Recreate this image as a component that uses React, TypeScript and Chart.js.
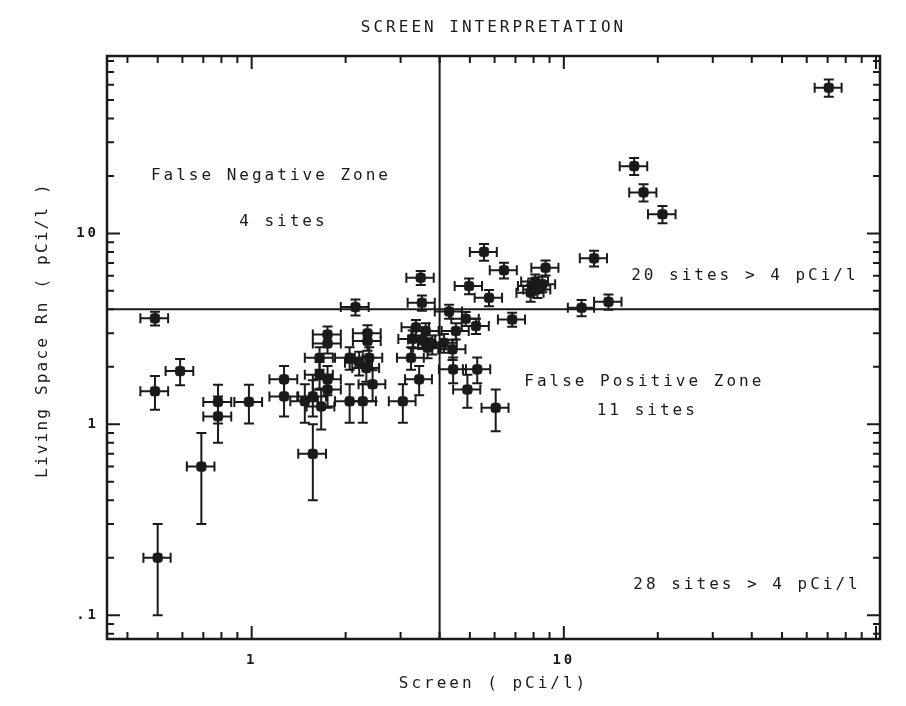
import { useEffect, useRef } from 'react';
import { Chart, registerables } from 'chart.js';

Chart.register(...registerables);

// ---- data ----
const screen = [
  0.49, 0.49, 0.59, 0.5, 0.69, 0.78, 0.78, 0.98, 1.27, 1.27,
  1.48, 1.57, 1.67, 1.57, 1.65, 1.75, 1.75, 1.65, 1.75, 1.75,
  2.06, 2.21, 2.33, 2.38, 2.35, 2.35, 2.44, 2.06, 2.27, 3.05,
  2.15, 3.51, 3.48, 3.24, 3.44, 3.36, 3.61, 3.52, 3.66, 3.79,
  3.28, 4.29, 4.85, 5.23, 6.83, 4.51, 4.4, 4.13, 4.42, 5.28,
  4.91, 6.05, 70.6, 16.8, 18.0, 20.7, 5.55, 12.5, 6.43, 8.74,
  4.97, 5.76, 7.93, 8.23, 7.83, 8.53, 8.1, 11.4, 13.9,
];
const living = [
  3.59, 1.49, 1.9, 0.2, 0.6, 1.31, 1.1, 1.31, 1.72, 1.4,
  1.32, 1.4, 1.24, 0.7, 1.82, 1.72, 1.52, 2.23, 2.95, 2.65,
  2.23, 2.1, 1.97, 2.23, 3.0, 2.73, 1.62, 1.32, 1.32, 1.32,
  4.11, 4.33, 5.86, 2.23, 1.72, 3.22, 3.08, 2.78, 2.52, 2.62,
  2.8, 3.9, 3.57, 3.27, 3.54, 3.08, 2.47, 2.67, 1.94, 1.94,
  1.52, 1.22, 58.0, 22.5, 16.4, 12.6, 8.0, 7.4, 6.41, 6.61,
  5.3, 4.6, 5.3, 5.09, 4.89, 5.42, 5.6, 4.08, 4.38,
];
const screenErr = [
  0.05, 0.05, 0.06, 0.05, 0.07, 0.08, 0.08, 0.1, 0.13, 0.13,
  0.15, 0.16, 0.17, 0.16, 0.17, 0.18, 0.18, 0.17, 0.18, 0.18,
  0.21, 0.22, 0.23, 0.24, 0.24, 0.24, 0.24, 0.21, 0.23, 0.3,
  0.22, 0.35, 0.35, 0.32, 0.34, 0.34, 0.36, 0.35, 0.37, 0.38,
  0.33, 0.43, 0.49, 0.52, 0.68, 0.45, 0.44, 0.41, 0.44, 0.53,
  0.49, 0.6, 7.0, 1.7, 1.8, 2.1, 0.55, 1.25, 0.64, 0.87,
  0.5, 0.58, 0.8, 0.82, 0.78, 0.85, 0.8, 1.1, 1.4,
];
const livingErr = [
  0.3, 0.3, 0.3, 0.1, 0.3, 0.3, 0.3, 0.3, 0.3, 0.3,
  0.3, 0.3, 0.3, 0.3, 0.3, 0.3, 0.3, 0.3, 0.3, 0.3,
  0.3, 0.3, 0.3, 0.3, 0.3, 0.3, 0.3, 0.3, 0.3, 0.3,
  0.4, 0.4, 0.5, 0.3, 0.3, 0.3, 0.3, 0.3, 0.3, 0.3,
  0.3, 0.33, 0.3, 0.3, 0.3, 0.3, 0.3, 0.3, 0.3, 0.3,
  0.3, 0.3, 6.0, 2.3, 1.7, 1.3, 0.8, 0.7, 0.6, 0.6,
  0.5, 0.45, 0.5, 0.5, 0.5, 0.5, 0.5, 0.4, 0.4,
];

const xRange = [0.344, 103];
const yRange = [0.075, 85];
const xTicks = [0.4, 0.5, 0.6, 0.7, 0.8, 0.9, 1, 2, 3, 4, 5, 6, 7, 8, 9, 10, 20, 30, 40, 50, 60, 70, 80, 90, 100];
const yTicks = [0.08, 0.09, 0.1, 0.2, 0.3, 0.4, 0.5, 0.6, 0.7, 0.8, 0.9, 1, 2, 3, 4, 5, 6, 7, 8, 9, 10, 20, 30, 40, 50, 60, 70, 80];
const xMajor = [1, 10, 100];
const yMajor = [0.1, 1, 10];
const xTickLabels = ['1', '10'];
const xTickLabelValues = [1, 10];
const yTickLabels = ['.1', '1', '10'];
const yTickLabelValues = [0.1, 1, 10];
const threshold = 4;

const noteTexts = ['False Negative Zone', '4 sites', '20 sites > 4 pCi/l', 'False Positive Zone', '11 sites', '28 sites > 4 pCi/l'];
const noteX = [1.14, 1.25, 37.6, 17.9, 18.3, 38.2];
const noteY = [20, 11.5, 5.98, 1.66, 1.17, 0.145];
const yTitle = 'Living Space Rn ( pCi/l )';

const INK = '#1a1a1a';
const FONT = "'DejaVu Sans Mono', 'Liberation Mono', monospace";

export default function App() {
  const ref = useRef<HTMLCanvasElement | null>(null);

  useEffect(() => {
    const canvas = ref.current;
    if (!canvas) return;

    const spacingPlugin = {
      id: 'spacing',
      beforeDraw(chart: any) {
        (chart.ctx as any).letterSpacing = '3px';
      },
    };

    const framePlugin = {
      id: 'frame',
      beforeDatasetsDraw(chart: any) {
        const { ctx, chartArea: a, scales } = chart;
        const xs = scales.x;
        const ys = scales.y;
        ctx.save();
        ctx.strokeStyle = INK;
        ctx.lineWidth = 2;
        // ticks, pointing inward on all four sides
        xTicks.forEach((v) => {
          const px = xs.getPixelForValue(v);
          const len = xMajor.includes(v) ? 13 : 7;
          ctx.beginPath();
          ctx.moveTo(px, a.bottom);
          ctx.lineTo(px, a.bottom - len);
          ctx.moveTo(px, a.top);
          ctx.lineTo(px, a.top + len);
          ctx.stroke();
        });
        yTicks.forEach((v) => {
          const py = ys.getPixelForValue(v);
          const len = yMajor.includes(v) ? 13 : 7;
          ctx.beginPath();
          ctx.moveTo(a.left, py);
          ctx.lineTo(a.left + len, py);
          ctx.moveTo(a.right, py);
          ctx.lineTo(a.right - len, py);
          ctx.stroke();
        });
        // threshold lines
        const tx = xs.getPixelForValue(threshold);
        const ty = ys.getPixelForValue(threshold);
        ctx.beginPath();
        ctx.moveTo(tx, a.top);
        ctx.lineTo(tx, a.bottom);
        ctx.moveTo(a.left, ty);
        ctx.lineTo(a.right, ty);
        ctx.stroke();
        // frame
        ctx.lineWidth = 2.5;
        ctx.strokeRect(a.left, a.top, a.right - a.left, a.bottom - a.top);

        // error bars
        ctx.lineWidth = 2;
        const cap = 5;
        for (let i = 0; i < screen.length; i++) {
          const cx = xs.getPixelForValue(screen[i]);
          const cy = ys.getPixelForValue(living[i]);
          const x0 = xs.getPixelForValue(screen[i] - screenErr[i]);
          const x1 = xs.getPixelForValue(screen[i] + screenErr[i]);
          const y0 = ys.getPixelForValue(living[i] - livingErr[i]);
          const y1 = ys.getPixelForValue(living[i] + livingErr[i]);
          ctx.beginPath();
          ctx.moveTo(x0, cy);
          ctx.lineTo(x1, cy);
          ctx.moveTo(x0, cy - cap);
          ctx.lineTo(x0, cy + cap);
          ctx.moveTo(x1, cy - cap);
          ctx.lineTo(x1, cy + cap);
          ctx.moveTo(cx, y0);
          ctx.lineTo(cx, y1);
          ctx.moveTo(cx - cap, y0);
          ctx.lineTo(cx + cap, y0);
          ctx.moveTo(cx - cap, y1);
          ctx.lineTo(cx + cap, y1);
          ctx.stroke();
        }
        ctx.restore();
      },
    };

    const notesPlugin = {
      id: 'notes',
      afterDraw(chart: any) {
        const { ctx, scales } = chart;
        ctx.save();
        (ctx as any).letterSpacing = '3px';
        ctx.fillStyle = INK;
        ctx.font = `16px ${FONT}`;
        ctx.textAlign = 'center';
        ctx.textBaseline = 'middle';
        noteTexts.forEach((t, i) => {
          ctx.fillText(t, scales.x.getPixelForValue(noteX[i]) + 1.5, scales.y.getPixelForValue(noteY[i]));
        });
        // vertical axis title
        (ctx as any).letterSpacing = '2.2px';
        ctx.translate(43, 331);
        ctx.rotate(-Math.PI / 2);
        ctx.fillText(yTitle, 1, 0);
        ctx.restore();
      },
    };

    const points = screen.map((x, i) => ({ x, y: living[i] }));

    const chart = new Chart(canvas, {
      type: 'scatter',
      data: {
        datasets: [
          {
            label: 'sites',
            data: points,
            pointStyle: 'rectRounded',
            pointRadius: 5.6,
            pointBackgroundColor: INK,
            pointBorderColor: INK,
            pointBorderWidth: 0.5,
          },
        ],
      },
      options: {
        responsive: false,
        animation: false,
        layout: { padding: { left: 0, right: 26, top: 0, bottom: 0 } },
        plugins: {
          legend: { display: false },
          tooltip: { enabled: false },
          title: {
            display: true,
            text: 'SCREEN INTERPRETATION',
            fullSize: false,
            color: INK,
            font: { family: FONT, size: 16, weight: 'normal', lineHeight: 1.2 },
            padding: { top: 18, bottom: 18.8 },
          },
        },
        scales: {
          x: {
            type: 'logarithmic',
            min: xRange[0],
            max: xRange[1],
            bounds: 'data',
            grid: { display: false, drawTicks: false },
            border: { display: false },
            afterBuildTicks: (scale: any) => {
              scale.ticks = xTicks.map((v) => ({ value: v }));
              scale.min = xRange[0];
              scale.max = xRange[1];
            },
            afterFit: (scale: any) => {
              scale.height = 67;
            },
            ticks: {
              autoSkip: false,
              maxRotation: 0,
              padding: 13,
              color: INK,
              font: { family: FONT, size: 14, weight: 'bold' },
              callback: (value: any) => {
                const k = xTickLabelValues.indexOf(value);
                return k >= 0 ? xTickLabels[k] : null;
              },
            },
            title: {
              display: true,
              text: 'Screen ( pCi/l)',
              color: INK,
              font: { family: FONT, size: 16, lineHeight: 1.2 },
              padding: { top: 0, bottom: 13 },
            },
          },
          y: {
            type: 'logarithmic',
            min: yRange[0],
            max: yRange[1],
            bounds: 'data',
            grid: { display: false, drawTicks: false },
            border: { display: false },
            afterBuildTicks: (scale: any) => {
              scale.ticks = yTicks.map((v) => ({ value: v }));
              scale.min = yRange[0];
              scale.max = yRange[1];
            },
            afterFit: (scale: any) => {
              scale.width = 107;
            },
            ticks: {
              autoSkip: false,
              padding: 8,
              color: INK,
              font: { family: FONT, size: 14, weight: 'bold' },
              callback: (value: any) => {
                const k = yTickLabelValues.indexOf(value);
                return k >= 0 ? yTickLabels[k] : null;
              },
            },
            title: { display: false },
          },
        },
      },
      plugins: [spacingPlugin, framePlugin, notesPlugin],
    } as any);

    return () => chart.destroy();
  }, []);

  return (
    <div style={{ position: 'fixed', left: 0, top: 0, width: 906, height: 706, background: '#fff' }}>
      <canvas ref={ref} width={906} height={706} style={{ display: 'block' }} />
    </div>
  );
}
